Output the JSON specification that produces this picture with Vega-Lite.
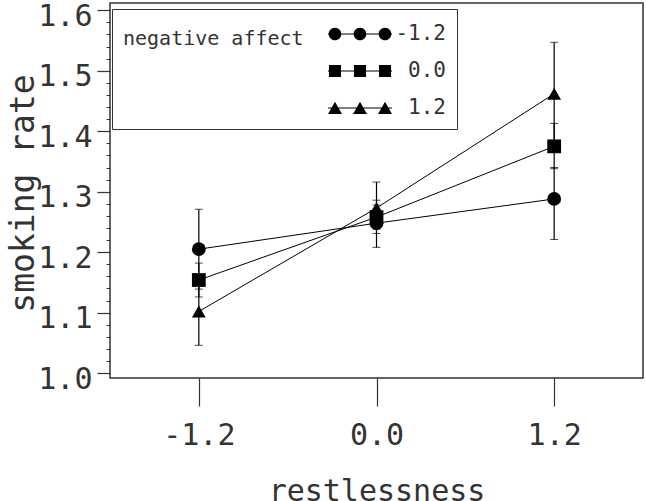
{
  "$schema": "https://vega.github.io/schema/vega-lite/v6.json",
  "width": 533,
  "height": 375,
  "autosize": {"type": "none"},
  "padding": {"left": 110, "top": 3, "right": 3, "bottom": 123},
  "background": "white",
  "config": {
    "font": "DejaVu Sans Mono",
    "view": {"stroke": "#333", "strokeWidth": 1.5}
  },
  "data": {
    "values": [
      {"na": "-1.2", "x": -1.2, "y": 1.205, "lo": 1.139, "hi": 1.271},
      {"na": "-1.2", "x": 0.0, "y": 1.248, "lo": 1.208, "hi": 1.286},
      {"na": "-1.2", "x": 1.2, "y": 1.288, "lo": 1.221, "hi": 1.340},
      {"na": "0.0", "x": -1.2, "y": 1.154, "lo": 1.126, "hi": 1.182},
      {"na": "0.0", "x": 0.0, "y": 1.258, "lo": 1.238, "hi": 1.278},
      {"na": "0.0", "x": 1.2, "y": 1.375, "lo": 1.338, "hi": 1.413},
      {"na": "1.2", "x": -1.2, "y": 1.102, "lo": 1.046, "hi": 1.155},
      {"na": "1.2", "x": 0.0, "y": 1.273, "lo": 1.231, "hi": 1.316},
      {"na": "1.2", "x": 1.2, "y": 1.462, "lo": 1.377, "hi": 1.547}
    ]
  },
  "encoding": {
    "x": {
      "field": "x",
      "type": "quantitative",
      "scale": {"domain": [-1.8, 1.8], "nice": false, "zero": false},
      "axis": {
        "values": [-1.2, 0, 1.2],
        "labelExpr": "datum.value < 0 ? '-' + format(-datum.value, '.1f') : format(datum.value, '.1f')",
        "domain": false,
        "grid": false,
        "tickSize": 28,
        "tickColor": "#333",
        "tickWidth": 1.2,
        "labelFontSize": 30,
        "labelPadding": 14,
        "labelColor": "#333",
        "labelFlush": false,
        "labelOverlap": false,
        "title": "restlessness",
        "titleFontSize": 30,
        "titleFontWeight": "normal",
        "titleColor": "#333",
        "titleY": 122,
        "titleBaseline": "alphabetic"
      }
    }
  },
  "layer": [
    {
      "mark": {"type": "line", "color": "black", "strokeWidth": 1},
      "encoding": {
        "y": {
          "field": "y",
          "type": "quantitative",
          "scale": {"domain": [0.992, 1.612], "nice": false, "zero": false},
          "axis": {
            "orient": "left",
            "values": [1.0, 1.1, 1.2, 1.3, 1.4, 1.5, 1.6],
            "format": ".1f",
            "domain": false,
            "grid": false,
            "tickSize": 13,
            "tickColor": "#333",
            "tickWidth": 1.2,
            "labelFontSize": 30,
            "labelPadding": 5,
            "labelOffset": 6,
            "labelColor": "#333",
            "labelFlush": false,
            "labelOverlap": false,
            "title": "smoking rate",
            "titleFontSize": 33,
            "titleFontWeight": "normal",
            "titleColor": "#333",
            "titleAngle": 270,
            "titleX": -77,
            "titleY": 190,
            "titleAlign": "center",
            "titleBaseline": "alphabetic"
          }
        },
        "detail": {"field": "na", "type": "nominal"}
      }
    },
    {
      "mark": {"type": "errorbar", "color": "black", "ticks": {"size": 8, "color": "black"}, "rule": {"strokeWidth": 1.2}},
      "encoding": {
        "y": {"field": "lo", "type": "quantitative", "axis": null, "scale": {"domain": [0.992, 1.612], "nice": false, "zero": false}},
        "y2": {"field": "hi"}
      }
    },
    {
      "mark": {"type": "point", "filled": true, "color": "black", "opacity": 1, "size": 190},
      "encoding": {
        "y": {
          "field": "y",
          "type": "quantitative",
          "scale": {"domain": [0.992, 1.612], "nice": false, "zero": false},
          "axis": {
            "orient": "left",
            "values": [1.0, 1.02, 1.04, 1.06, 1.08, 1.1, 1.12, 1.14, 1.16, 1.18, 1.2, 1.22, 1.24, 1.26, 1.28, 1.3, 1.32, 1.34, 1.36, 1.38, 1.4, 1.42, 1.44, 1.46, 1.48, 1.5, 1.52, 1.54, 1.56, 1.58, 1.6],
            "labels": false,
            "domain": false,
            "grid": false,
            "tickSize": 4,
            "tickColor": "#333",
            "title": null
          }
        },
        "shape": {
          "field": "na",
          "type": "nominal",
          "scale": {"domain": ["-1.2", "0.0", "1.2"], "range": ["circle", "square", "triangle-up"]},
          "legend": null
        }
      }
    },
    {
      "mark": {"type": "point", "filled": true, "color": "black", "opacity": 0},
      "encoding": {
        "y": {"field": "y", "type": "quantitative", "axis": null, "scale": {"domain": [0.992, 1.612], "nice": false, "zero": false}},
        "shape": {
          "field": "na",
          "type": "nominal",
          "scale": {
            "domain": ["-1.2", "0.0", "1.2"],
            "range": [
              "M-2.29,-0.04H2.29V0.04H-2.29Z M-2.236,0A0.45,0.45 0 1,1 -1.336,0A0.45,0.45 0 1,1 -2.236,0Z M-0.45,0A0.45,0.45 0 1,1 0.45,0A0.45,0.45 0 1,1 -0.45,0Z M1.336,0A0.45,0.45 0 1,1 2.236,0A0.45,0.45 0 1,1 1.336,0Z",
              "M-2.29,-0.04H2.29V0.04H-2.29Z M-2.216,-0.43H-1.356V0.43H-2.216Z M-0.43,-0.43H0.43V0.43H-0.43Z M1.356,-0.43H2.216V0.43H1.356Z",
              "M-2.29,-0.04H2.29V0.04H-2.29Z M-1.786,-0.45L-1.286,0.42L-2.286,0.42Z M0,-0.45L0.5,0.42L-0.5,0.42Z M1.786,-0.45L2.286,0.42L1.286,0.42Z"
            ]
          },
          "legend": {
            "orient": "none",
            "legendX": 2,
            "legendY": 6,
            "title": "negative affect",
            "titleOrient": "left",
            "titleAnchor": "start",
            "titleBaseline": "line-top",
            "titleLineHeight": 38,
            "titleLimit": 400,
            "titleFont": "DejaVu Sans Mono",
            "titleFontSize": 20,
            "titleFontWeight": "normal",
            "titleColor": "#333",
            "titlePadding": 42,
            "labelFont": "DejaVu Sans Mono",
            "labelFontSize": 21,
            "labelColor": "#333",
            "labelAlign": "right",
            "labelOffset": 72,
            "symbolSize": 784,
            "symbolFillColor": "black",
            "symbolStrokeColor": "black",
            "symbolStrokeWidth": 0,
            "symbolOpacity": 1,
            "rowPadding": 13,
            "padding": 11,
            "strokeColor": "#333",
            "fillColor": "white"
          }
        }
      }
    }
  ],
  "resolve": {
    "scale": {"shape": "independent"},
    "axis": {"y": "independent"}
  }
}
